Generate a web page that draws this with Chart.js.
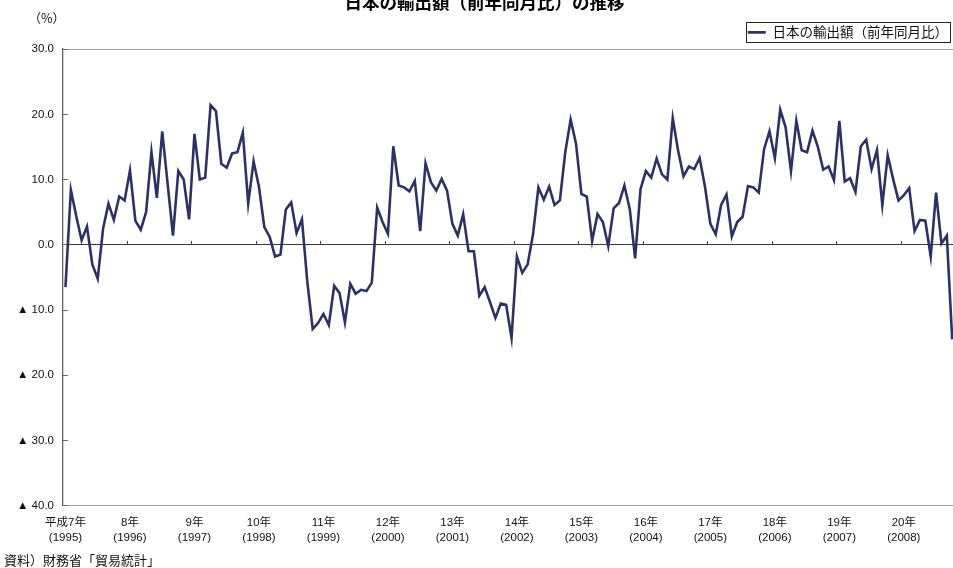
<!DOCTYPE html>
<html lang="ja">
<head>
<meta charset="utf-8">
<title>日本の輸出額（前年同月比）の推移</title>
<script src="https://cdn.jsdelivr.net/npm/chart.js@4/dist/chart.umd.min.js"></script>
<style>
  html, body { margin: 0; padding: 0; background: #fff; overflow: hidden; }
  canvas { display: block; }
</style>
</head>
<body>
<canvas id="chart" width="953" height="568"></canvas>
<script>
// monthly, Jan 1995 (平成7年) .. Oct 2008
const startYear = 1995;
const seriesName = '日本の輸出額（前年同月比）';
const exportYoY = [
    -6.5, 8.4, 4.4, 0.7, 2.8, -3.0, -5.2, 2.5, 6.3, 3.8, 7.4, 6.8,
    11.4, 3.7, 2.3, 5.0, 14.2, 7.2, 17.4, 9.4, 1.4, 11.3, 10.0, 3.9,
    17.0, 10.0, 10.3, 21.4, 20.5, 12.4, 11.8, 14.0, 14.2, 17.2, 6.3, 12.8,
    8.9, 2.7, 1.2, -1.8, -1.5, 5.4, 6.5, 1.8, 3.9, -5.7, -12.9, -12.0,
    -10.6, -12.3, -6.3, -7.4, -11.9, -6.0, -7.5, -6.9, -7.1, -5.8, 5.7, 3.5,
    1.7, 15.1, 9.1, 8.8, 8.2, 9.8, 2.1, 12.5, 9.6, 8.3, 10.1, 8.3,
    3.2, 1.4, 4.7, -1.0, -1.0, -7.8, -6.5, -8.8, -11.2, -9.0, -9.2, -14.3,
    -1.8, -4.3, -3.0, 1.6, 8.8, 6.9, 8.9, 6.1, 6.8, 14.2, 19.2, 15.5,
    7.8, 7.4, 0.6, 4.7, 3.5, -0.2, 5.6, 6.4, 9.1, 5.5, -2.1, 8.5,
    11.3, 10.3, 13.2, 10.8, 10.0, 19.4, 14.4, 10.5, 12.0, 11.6, 13.3, 8.9,
    3.2, 1.6, 6.1, 7.7, 1.3, 3.5, 4.3, 9.0, 8.8, 8.0, 14.7, 17.4,
    13.3, 20.7, 18.0, 11.3, 19.0, 14.5, 14.2, 17.5, 15.0, 11.5, 12.0, 9.9,
    19.0, 9.7, 10.2, 8.1, 15.1, 16.1, 11.6, 14.5, 6.1, 13.7, 10.1, 6.8,
    7.6, 8.7, 2.1, 3.8, 3.7, -1.8, 8.0, 0.2, 1.4, -14.5
];
const yearLabels = [
    ['平成7年', '(1995)'], ['8年', '(1996)'], ['9年', '(1997)'], ['10年', '(1998)'],
    ['11年', '(1999)'], ['12年', '(2000)'], ['13年', '(2001)'], ['14年', '(2002)'],
    ['15年', '(2003)'], ['16年', '(2004)'], ['17年', '(2005)'], ['18年', '(2006)'],
    ['19年', '(2007)'], ['20年', '(2008)']
];
const yMin = -40;
const yMax = 30;
const unitLabel = '（%）';
const sourceNote = '資料）財務省「貿易統計」';

document.addEventListener('DOMContentLoaded', () => {
    const fontFamily = "'Liberation Sans', 'Noto Sans CJK JP', sans-serif";
    const cjkFamily = "'Noto Sans CJK JP', sans-serif";
    Chart.defaults.color = '#111';

    const xMin = -0.5;
    const xMax = 165.15;   // plot is cut at the right edge of the picture

    // box around the legend, plus unit and source notes
    const notes = {
        id: 'notes',
        afterDraw(chart) {
            const ctx = chart.ctx;
            const area = chart.chartArea;
            ctx.save();
            const hb = chart.legend.legendHitBoxes[0];
            if (hb) {
                ctx.strokeStyle = '#222';
                ctx.lineWidth = 1;
                ctx.strokeRect(Math.round(hb.left - 2) + 0.5, Math.round(hb.top - 4) + 0.5,
                    Math.round(hb.width + 4), Math.round(hb.height + 6));
            }
            ctx.fillStyle = '#111';
            ctx.textBaseline = 'middle';
            ctx.font = '12.5px ' + cjkFamily;
            ctx.textAlign = 'center';
            ctx.fillText(unitLabel, area.left - 16, area.top - 31);
            ctx.font = '13px ' + cjkFamily;
            ctx.textAlign = 'left';
            ctx.fillText(sourceNote, 4, chart.height - 8);
            ctx.restore();
        }
    };

    const ctx = document.getElementById('chart').getContext('2d');
    new Chart(ctx, {
        type: 'line',
        data: {
            datasets: [{
                label: seriesName,
                data: exportYoY.map((v, i) => ({ x: i, y: v })),
                borderColor: '#2e3163',
                backgroundColor: '#2e3163',
                borderWidth: 2.6,
                pointRadius: 0,
                tension: 0,
                xAxisID: 'x',
                yAxisID: 'y'
            }]
        },
        options: {
            responsive: false,
            animation: false,
            layout: { padding: { left: 16, right: 0, top: 0, bottom: 0 } },
            plugins: {
                title: {
                    display: true,
                    text: '日本の輸出額（前年同月比）の推移',
                    color: '#000',
                    font: { family: cjkFamily, size: 17.5, weight: 'bold' },
                    padding: { top: -8, bottom: 7.6 }
                },
                legend: {
                    position: 'top',
                    align: 'end',
                    labels: {
                        usePointStyle: true,
                        pointStyle: 'line',
                        pointStyleWidth: 18,
                        padding: 5,
                        color: '#111',
                        font: { family: cjkFamily, size: 13.5 }
                    }
                },
                tooltip: { enabled: false }
            },
            scales: {
                x: {
                    type: 'linear',
                    position: 'bottom',
                    min: xMin,
                    max: xMax,
                    afterBuildTicks: axis => {
                        axis.ticks = yearLabels.map((_, k) => ({ value: k * 12 }));
                    },
                    afterFit: axis => { axis.height = 62.3; },
                    grid: { display: false, drawTicks: false },
                    border: { display: false },
                    ticks: {
                        autoSkip: false,
                        maxRotation: 0,
                        padding: 10.2,
                        font: { family: fontFamily, size: 11.5, lineHeight: 1.25 },
                        callback: (value, index) => yearLabels[index]
                    }
                },
                xz: {
                    type: 'linear',
                    position: { y: 0 },
                    min: xMin,
                    max: xMax,
                    afterBuildTicks: axis => {
                        axis.ticks = yearLabels.slice(1).map((_, k) => ({ value: (k + 1) * 12 - 0.5 }));
                    },
                    grid: { drawOnChartArea: false, drawTicks: true, tickLength: -4, tickColor: '#444' },
                    border: { display: false },
                    ticks: { display: false }
                },
                y: {
                    min: yMin,
                    max: yMax,
                    afterFit: axis => { axis.width = 46.8; },
                    ticks: {
                        stepSize: 10,
                        padding: 13.8,
                        font: { family: fontFamily, size: 11.5 },
                        callback: v => v < 0 ? '▲ ' + Math.abs(v).toFixed(1) : v.toFixed(1)
                    },
                    grid: {
                        drawOnChartArea: true,
                        drawTicks: true,
                        tickLength: -5,
                        tickColor: '#666',
                        lineWidth: 1,
                        color: c => {
                            const v = c.tick && c.tick.value;
                            if (v === 0) return '#3a3a3a';
                            if (v === yMax || v === yMin) return '#a0a0a0';
                            return 'rgba(0,0,0,0)';
                        }
                    },
                    border: { display: true, color: '#666', width: 1.3 }
                }
            }
        },
        plugins: [notes]
    });
});
</script>
</body>
</html>
